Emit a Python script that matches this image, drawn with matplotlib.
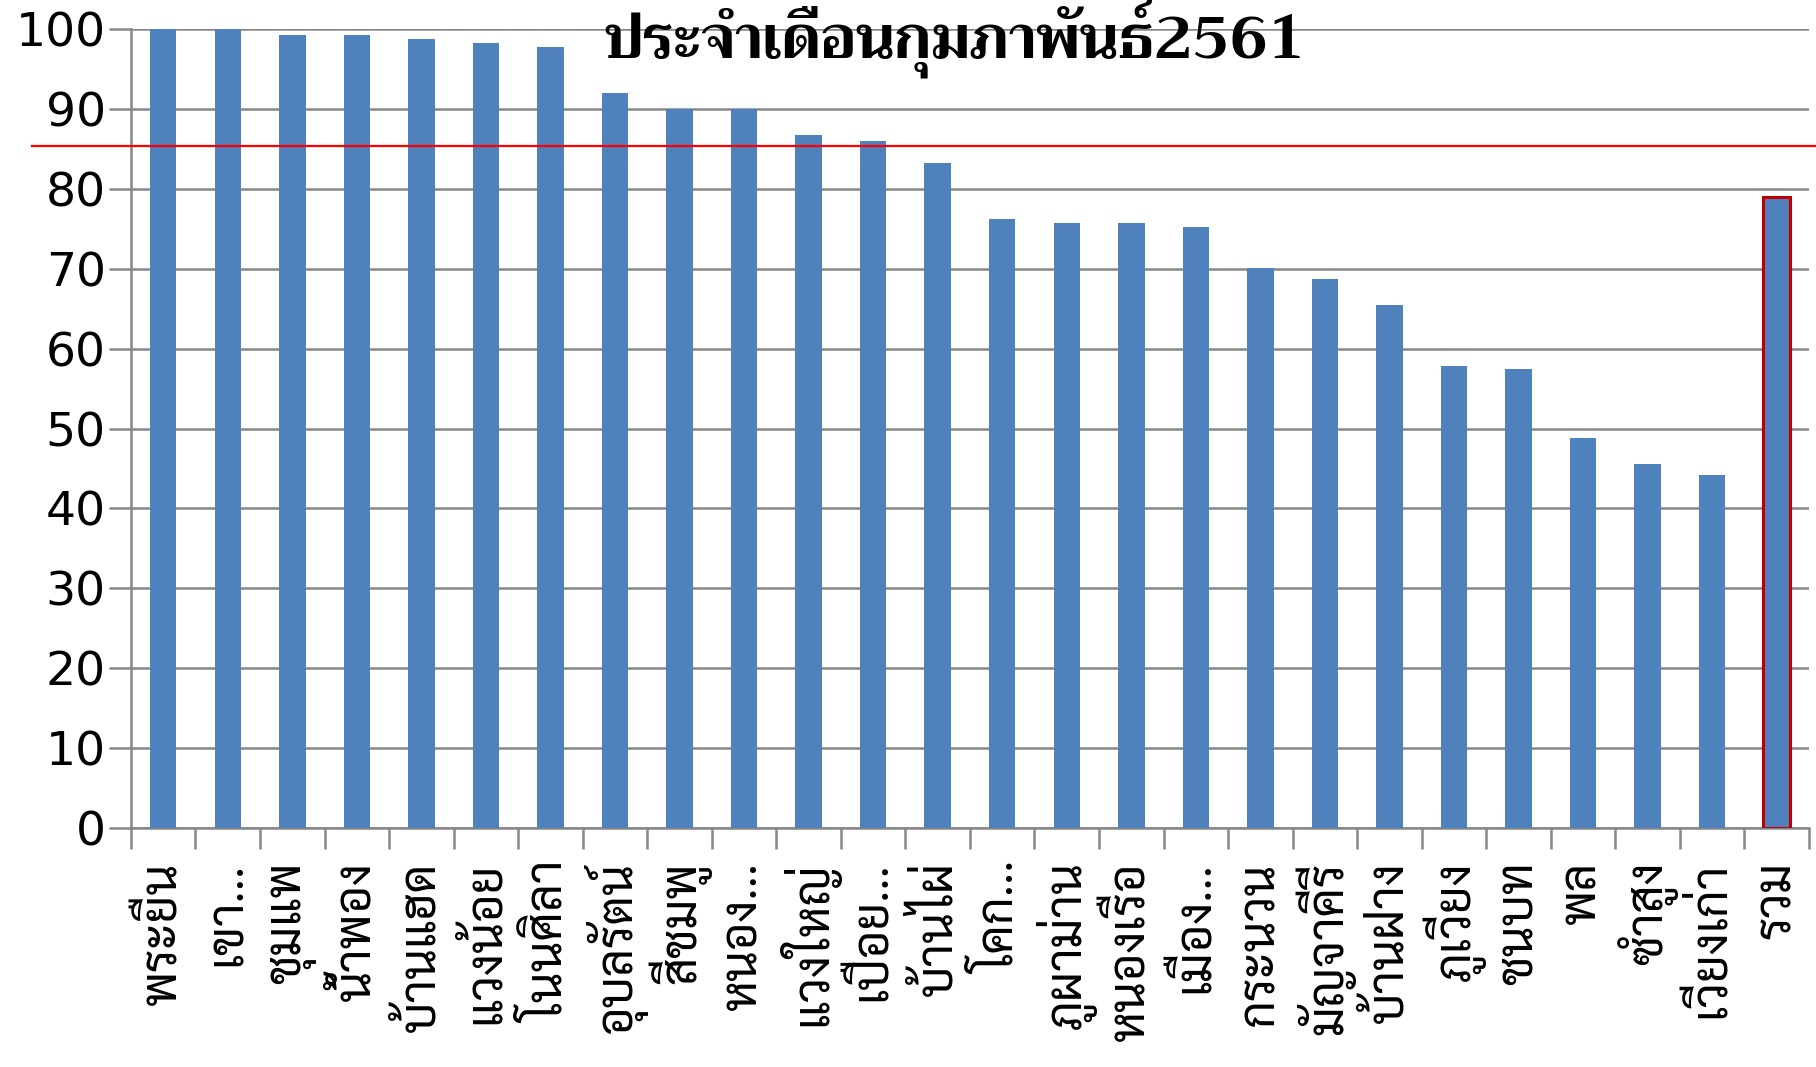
import matplotlib
matplotlib.use('Agg')
import matplotlib.pyplot as plt

# - data
districts = ['พระยืน', 'เขา...', 'ชุมแพ', 'น้ำพอง', 'บ้านแฮด', 'แวงน้อย', 'โนนศิลา',
             'อุบลรัตน์', 'สีชมพู', 'หนอง...', 'แวงใหญ่', 'เปือย...', 'บ้านไผ่', 'โคก...',
             'ภูผาม่าน', 'หนองเรือ', 'เมือง...', 'กระนวน', 'มัญจาคีรี', 'บ้านฝาง',
             'ภูเวียง', 'ชนบท', 'พล', 'ซำสูง', 'เวียงเก่า', 'รวม']
percent = [100.0, 100.0, 99.3, 99.3, 98.8, 98.3, 97.7, 92.0, 90.0, 90.0, 86.7, 86.0, 83.2,
           76.2, 75.7, 75.7, 75.2, 70.1, 68.7, 65.5, 57.8, 57.5, 48.8, 45.5, 44.2, 79.0]
target = 85.4
yticks = list(range(0, 101, 10))
title = 'ประจำเดือนกุมภาพันธ์2561'

# - plot
fig = plt.figure(figsize=(18.16, 10.67), dpi=100)
ax = fig.add_axes([0.0721, 0.224, 0.924, 0.7488])

x = list(range(len(districts)))
bars = ax.bar(x, percent, width=0.41, color='#4F81BD', zorder=3)
# - total bar outlined in red
bars[-1].set_edgecolor('#C00000')
bars[-1].set_linewidth(2.2)

ax.axhline(target, xmin=-0.059, xmax=1.01, color='#FF0000', linewidth=1.6, clip_on=False, zorder=4)

ax.set_xlim(-0.5, len(districts) - 0.5)
ax.set_ylim(0, 100)
ax.set_yticks(yticks)
ax.set_yticklabels([str(v) for v in yticks], family='DejaVu Sans', fontsize=34)
ax.yaxis.grid(True, color='#878787', linewidth=1.8, zorder=0)

ax.set_xticks(x)
ax.set_xticklabels(districts, rotation=90, family=['Sarabun', 'Niramit', 'DejaVu Sans'], fontsize=35, va='top')
ax.set_xticks([i - 0.5 for i in range(len(districts) + 1)], minor=True)
ax.tick_params(axis='x', which='major', length=0, pad=24)
ax.tick_params(axis='x', which='minor', length=15, width=1.8, color='#878787')
ax.tick_params(axis='y', length=16, width=1.8, color='#878787', pad=2)

for side in ['top', 'right']:
    ax.spines[side].set_visible(False)
for side in ['left', 'bottom']:
    ax.spines[side].set_color('#878787')
    ax.spines[side].set_linewidth(1.8)

fig.text(0.526, 1.0, title, family=['Trirong', 'DejaVu Serif'], fontweight='bold',
         fontsize=43, ha='center', va='top')

fig.savefig('out.png', dpi=100)
